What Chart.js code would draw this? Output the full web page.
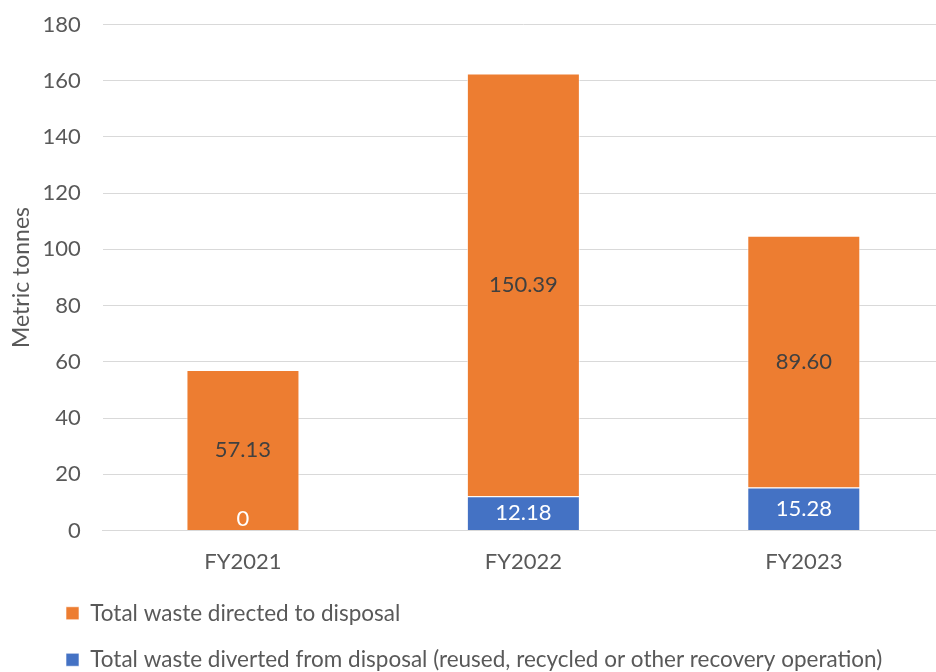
<!DOCTYPE html>
<html>
<head>
<meta charset="utf-8">
<script src="https://cdn.jsdelivr.net/npm/chart.js@4/dist/chart.umd.min.js"></script>
<style>
  html, body { margin: 0; padding: 0; background: #fff; overflow: hidden; }
  #wrap { position: relative; width: 944px; height: 681px; }
</style>
</head>
<body>
<div id="wrap"><canvas id="c" width="944" height="681"></canvas></div>
<script>
// Waste totals per fiscal year, in metric tonnes
const categories = ['FY2021', 'FY2022', 'FY2023'];
const divertedFromDisposal = [0, 12.18, 15.28];
const directedToDisposal = [57.13, 150.39, 89.60];
const yTicks = [0, 20, 40, 60, 80, 100, 120, 140, 160, 180];

const FONT = 'Lato, "Open Sans", "Liberation Sans", sans-serif';
const TEXT = '#595959';

// Value labels drawn in the middle of each bar segment
const segmentLabels = {
  id: 'segmentLabels',
  afterDatasetsDraw(chart) {
    const ctx = chart.ctx;
    ctx.save();
    ctx.font = '22px ' + FONT;
    ctx.textAlign = 'center';
    ctx.textBaseline = 'middle';
    chart.data.datasets.forEach((ds, di) => {
      const meta = chart.getDatasetMeta(di);
      meta.data.forEach((bar, i) => {
        const v = ds.data[i];
        const shown = v === 0 ? '0' : v.toFixed(2);
        const p = bar.getProps(['x', 'y', 'base'], true);
        let y = (p.y + p.base) / 2;
        if (Math.abs(p.base - p.y) < 24) y = p.base - 12;
        ctx.fillStyle = ds.labelColor;
        ctx.fillText(shown, p.x, y);
      });
    });
    ctx.restore();
  }
};

// Indent the legend block from the left edge
const legendIndent = {
  id: 'legendIndent',
  afterLayout(chart) {
    if (chart.legend) {
      chart.legend.left += 42;
      chart.legend.right += 42;
    }
  }
};

new Chart(document.getElementById('c'), {
  type: 'bar',
  data: {
    labels: categories,
    datasets: [
      {
        label: 'Total waste diverted from disposal (reused, recycled or other recovery operation)',
        data: divertedFromDisposal,
        backgroundColor: '#4472C4',
        borderColor: 'rgba(255,255,255,0.6)',
        borderWidth: 1,
        labelColor: '#FFFFFF'
      },
      {
        label: 'Total waste directed to disposal',
        data: directedToDisposal,
        backgroundColor: '#ED7D31',
        borderColor: 'rgba(255,255,255,0.6)',
        borderWidth: 1,
        labelColor: '#404040'
      }
    ]
  },
  options: {
    responsive: false,
    animation: false,
    devicePixelRatio: 1,
    barPercentage: 0.403,
    categoryPercentage: 1,
    layout: { padding: { top: 24.5, left: 0, right: 0, bottom: 0 } },
    plugins: {
      tooltip: { enabled: false },
      legend: {
        position: 'bottom',
        align: 'start',
        reverse: true,
        labels: {
          boxWidth: 13,
          boxHeight: 13,
          padding: 24,
          color: TEXT,
          font: { family: FONT, size: 22.5 }
        }
      }
    },
    scales: {
      x: {
        stacked: true,
        grid: { display: false, drawTicks: false },
        border: { display: true, color: '#D9D9D9', width: 1 },
        ticks: { color: TEXT, padding: 18, font: { family: FONT, size: 22 } },
        afterFit(scale) { scale.height = 47.5; }
      },
      y: {
        stacked: true,
        min: 0,
        max: 180,
        afterBuildTicks(scale) { scale.ticks = yTicks.map(v => ({ value: v })); },
        grid: { color: '#D9D9D9', lineWidth: 1, drawTicks: false },
        border: { display: false },
        ticks: { color: TEXT, padding: 22, font: { family: FONT, size: 22 } },
        title: {
          display: true,
          text: 'Metric tonnes',
          color: TEXT,
          padding: { top: 8, bottom: 0 },
          font: { family: FONT, size: 23 }
        },
        afterFit(scale) {
          scale.width = 102.75;
          scale.paddingTop = 0;
          scale.paddingBottom = 0;
        }
      }
    }
  },
  plugins: [segmentLabels, legendIndent]
});
</script>
</body>
</html>
